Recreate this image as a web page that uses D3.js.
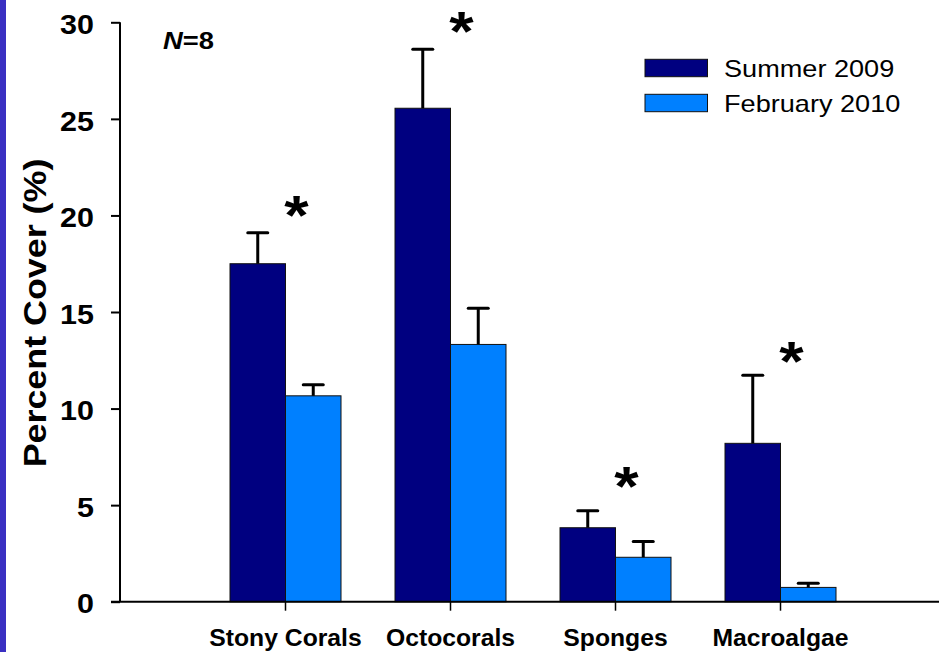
<!DOCTYPE html>
<html>
<head>
<meta charset="utf-8">
<script src="https://cdn.jsdelivr.net/npm/d3@7/dist/d3.min.js"></script>
<style>
  html, body { margin: 0; padding: 0; background: #fff; }
  svg { display: block; }
  text { font-family: "Liberation Sans", Arial, Helvetica, sans-serif; fill: #000; }
</style>
</head>
<body>
<svg id="chart" width="939" height="652"></svg>
<script>
// Benthic cover by category, two survey periods
const categories = ["Stony Corals", "Octocorals", "Sponges", "Macroalgae"];
const seriesNames = ["Summer 2009", "February 2010"];
const summer2009 = [17.5, 25.55, 3.83, 8.2];
const summer2009Err = [1.6, 3.05, 0.88, 3.53];
const february2010 = [10.66, 13.32, 2.3, 0.74];
const february2010Err = [0.57, 1.87, 0.82, 0.22];
const significant = [true, true, true, true];
const starLevel = [20.4, 29.9, 6.35, 12.8];
const yTicks = [0, 5, 10, 15, 20, 25, 30];
const sampleLabel = "8";

const colors = ["#000080", "#0080ff"];
const series = [
  { name: seriesNames[0], values: summer2009, errs: summer2009Err, color: colors[0] },
  { name: seriesNames[1], values: february2010, errs: february2010Err, color: colors[1] }
];

const svg = d3.select("#chart");

// side stripe
svg.append("rect").attr("x", 0).attr("y", 0).attr("width", 6).attr("height", 652)
  .attr("fill", "#3a30c2");

const axisX = 120;
const y = d3.scaleLinear().domain([0, 30]).range([601.7, 22.3]);
// category slots sit at 1..4 on a 0..5 track
const x = d3.scaleLinear().domain([0, 5]).range([120.5, 945.5]);
const barW = 55.5;

// bars
series.forEach((s, si) => {
  svg.append("g").selectAll("rect")
    .data(s.values)
    .join("rect")
    .attr("x", (d, i) => si === 0 ? x(i + 1) - barW : x(i + 1))
    .attr("y", d => y(d))
    .attr("width", barW)
    .attr("height", d => y(0) - y(d))
    .attr("fill", s.color)
    .attr("stroke", "#111")
    .attr("stroke-width", 1);
});

// error bars (upper only)
series.forEach((s, si) => {
  const g = svg.append("g");
  s.values.forEach((v, i) => {
    const cx = si === 0 ? x(i + 1) - barW / 2 : x(i + 1) + barW / 2;
    g.append("line")
      .attr("x1", cx).attr("x2", cx)
      .attr("y1", y(v)).attr("y2", y(v + s.errs[i]))
      .attr("stroke", "#000").attr("stroke-width", 3);
    g.append("line")
      .attr("x1", cx - 10).attr("x2", cx + 10)
      .attr("y1", y(v + s.errs[i])).attr("y2", y(v + s.errs[i]))
      .attr("stroke", "#000").attr("stroke-width", 3).attr("stroke-linecap", "round");
  });
});

// y axis
const yAxis = d3.axisLeft(y).tickValues(yTicks).tickSize(9).tickPadding(0).tickFormat("");
const gy = svg.append("g").attr("transform", `translate(${axisX},0)`).call(yAxis);
gy.select(".domain").attr("stroke", "#000").attr("stroke-width", 2).attr("d", `M0,${y(30)}V${y(0)}`);
gy.selectAll(".tick line").attr("stroke", "#000").attr("stroke-width", 2);

// y tick labels
svg.append("g").selectAll("text")
  .data(yTicks)
  .join("text")
  .attr("text-anchor", "end")
  .attr("font-size", 27)
  .attr("font-weight", "bold")
  .attr("transform", d => `translate(94,${y(d) + 11.7}) scale(1.13,1)`)
  .text(d => d);

// x axis
const gx = svg.append("g").attr("transform", `translate(0,${y(0)})`);
gx.append("line").attr("x1", 111).attr("x2", 939).attr("y1", 0).attr("y2", 0)
  .attr("stroke", "#000").attr("stroke-width", 2);
gx.selectAll("line.tick")
  .data(categories)
  .join("line")
  .attr("class", "tick")
  .attr("x1", (d, i) => x(i + 1)).attr("x2", (d, i) => x(i + 1))
  .attr("y1", 0).attr("y2", 9)
  .attr("stroke", "#000").attr("stroke-width", 1.5);

svg.append("g").selectAll("text")
  .data(categories)
  .join("text")
  .attr("text-anchor", "middle")
  .attr("font-size", 24)
  .attr("font-weight", "bold")
  .attr("transform", (d, i) => `translate(${x(i + 1)},645.5) scale(1.03,1)`)
  .text(d => d);

// y axis title
svg.append("text")
  .attr("text-anchor", "middle")
  .attr("font-size", 32)
  .attr("font-weight", "bold")
  .attr("transform", "translate(46,313) rotate(-90) scale(1.12,1)")
  .text("Percent Cover (%)");

// sample size
const nText = svg.append("text")
  .attr("font-size", 24)
  .attr("font-weight", "bold")
  .attr("transform", "translate(163,48.5) scale(1.14,1)");
nText.append("tspan").attr("font-style", "italic").text("N");
nText.append("tspan").text("=" + sampleLabel);

// significance markers
svg.append("g").selectAll("text")
  .data(categories.filter((d, i) => significant[i]))
  .join("text")
  .attr("text-anchor", "middle")
  .attr("font-size", 56)
  .attr("font-weight", "bold")
  .attr("transform", d => {
    const i = categories.indexOf(d);
    return `translate(${x(i + 1) + 11},${y(starLevel[i]) + 26}) scale(1.12,1)`;
  })
  .text("*");

// legend
const legend = svg.append("g");
series.forEach((s, si) => {
  const top = 59.3 + si * 35;
  legend.append("rect")
    .attr("x", 645).attr("y", top).attr("width", 62.5).attr("height", 17.4)
    .attr("fill", s.color).attr("stroke", "#111").attr("stroke-width", 1);
  legend.append("text")
    .attr("font-size", 24)
    .attr("transform", `translate(724,${top + 17.6}) scale(1.13,1)`)
    .text(s.name);
});
</script>
</body>
</html>
